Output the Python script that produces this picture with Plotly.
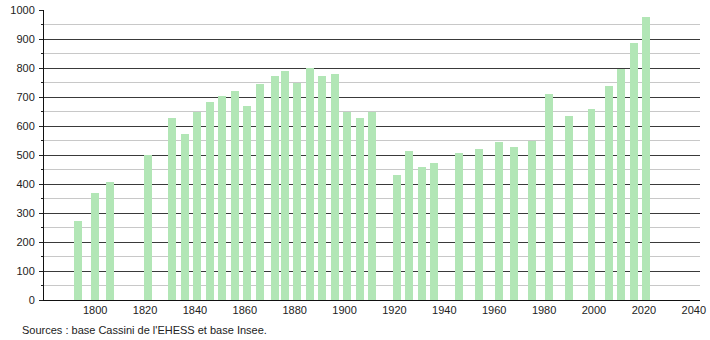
import plotly.graph_objects as go

years = [1793, 1800, 1806, 1821, 1831, 1836, 1841, 1846, 1851, 1856, 1861, 1866,
         1872, 1876, 1881, 1886, 1891, 1896, 1901, 1906, 1911, 1921, 1926, 1931,
         1936, 1946, 1954, 1962, 1968, 1975, 1982, 1990, 1999, 2006, 2011, 2016, 2021]
population = [272, 370, 407, 500, 626, 572, 648, 683, 703, 722, 669, 745,
              772, 790, 747, 799, 773, 779, 649, 626, 647, 431, 514, 460,
              471, 508, 521, 545, 528, 547, 710, 636, 659, 738, 795, 885, 975]
x_tickvals = [1800, 1820, 1840, 1860, 1880, 1900, 1920, 1940, 1960, 1980, 2000, 2020, 2040]
y_tickvals = [0, 100, 200, 300, 400, 500, 600, 700, 800, 900, 1000]
source_text = "Sources : base Cassini de l'EHESS et base Insee."

fig = go.Figure(go.Bar(
    x=years, y=population, width=3.2,
    marker=dict(color="#b2e6b6", line=dict(width=0)),
    hoverinfo="x+y",
))

font = dict(family="Liberation Sans, Arial, sans-serif", size=11, color="#222")

ml, mr, mt, mb = 44, 10, 10, 40
fig.update_layout(
    width=710, height=340,
    margin=dict(l=ml, r=mr, t=mt, b=mb, autoexpand=False),
    paper_bgcolor="white", plot_bgcolor="white",
    font=font, showlegend=False, bargap=0,
    xaxis=dict(
        range=[1779.5, 2042.5], tickvals=x_tickvals, ticks="",
        showgrid=False, zeroline=False, showline=True, linecolor="#111", linewidth=1,
        tickfont=font, ticklabelstandoff=0, automargin=False,
    ),
    yaxis=dict(
        range=[0, 1000], tickvals=y_tickvals, ticks="outside", ticklen=4,
        tickcolor="#222", showgrid=True, gridcolor="#3a3a3a", gridwidth=1,
        zeroline=False, showline=True, linecolor="#111", linewidth=1,
        tickfont=font, automargin=False, ticklabelstandoff=2,
        minor=dict(dtick=50, showgrid=True, gridcolor="#c8c8c8", ticks="outside",
                   ticklen=2, tickcolor="#222"),
    ),
)
pw = 710 - ml - mr
ph = 340 - mt - mb
fig.add_annotation(
    text=source_text, x=(20 - ml) / pw, y=(340 - mb - 330) / ph,
    xref="paper", yref="paper", showarrow=False, font=font,
    xanchor="left", yanchor="middle",
)

fig.write_html("out.html")
